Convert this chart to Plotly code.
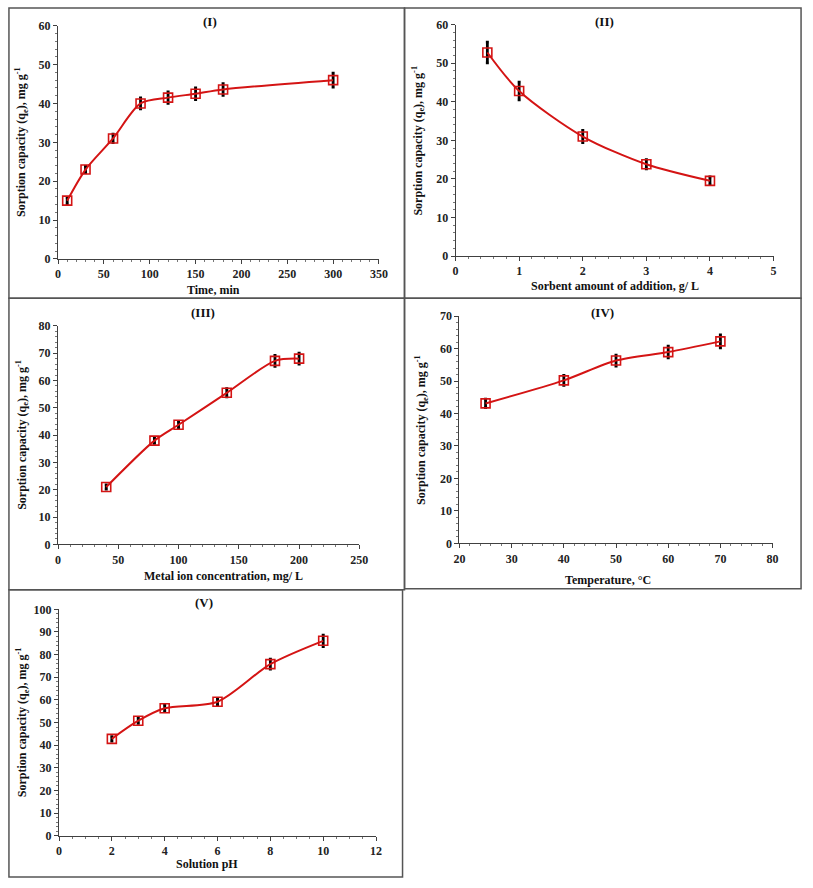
import plotly.graph_objects as go

W, H = 813, 888

# Panel I: contact time
time_min = [10, 30, 60, 90, 120, 150, 180, 300]
q_time = [15.0, 23.0, 31.0, 40.0, 41.5, 42.5, 43.6, 46.0]
err_time = [0.8, 0.8, 1.1, 1.4, 1.5, 1.5, 1.5, 1.8]

# Panel II: sorbent dose
dose = [0.5, 1, 2, 3, 4]
q_dose = [52.8, 42.8, 31.0, 23.8, 19.5]
err_dose = [2.7, 2.3, 1.6, 1.2, 1.0]

# Panel III: metal ion concentration
conc = [40, 80, 100, 140, 180, 200]
q_conc = [21.0, 38.0, 43.8, 55.5, 67.2, 68.0]
err_conc = [0.8, 1.0, 1.2, 1.5, 2.0, 2.0]

# Panel IV: temperature
temp = [25, 40, 50, 60, 70]
q_temp = [43.1, 50.2, 56.3, 58.9, 62.2]
err_temp = [1.3, 1.5, 1.7, 1.8, 2.0]

# Panel V: pH
ph = [2, 3, 4, 6, 8, 10]
q_ph = [42.8, 50.8, 56.3, 59.2, 75.8, 86.1]
err_ph = [1.0, 1.2, 1.5, 1.5, 2.2, 2.5]

panels = [
    dict(x=time_min, y=q_time, e=err_time, xr=[0, 350], xd=50, yr=[0, 60], yd=10,
         box=(53, 19, 380, 256), border=(3, 1, 406, 296), label="(I)", lab=(208, 15),
         xt="Time, min", xtp=(211, 288), ytx=16),
    dict(x=dose, y=q_dose, e=err_dose, xr=[0, 5], xd=1, yr=[0, 60], yd=10,
         box=(458, 18, 782, 253), border=(406, 1, 810, 296), label="(II)", lab=(610, 15),
         xt="Sorbent amount of addition, g/ L", xtp=(620, 283), ytx=420),
    dict(x=conc, y=q_conc, e=err_conc, xr=[0, 250], xd=50, yr=[0, 80], yd=10,
         box=(53, 324, 360, 546), border=(3, 296, 406, 592), label="(III)", lab=(201, 310),
         xt="Metal ion concentration, mg/ L", xtp=(222, 578), ytx=16),
    dict(x=temp, y=q_temp, e=err_temp, xr=[20, 80], xd=10, yr=[0, 70], yd=10,
         box=(462, 314, 781, 545), border=(406, 296, 810, 591), label="(IV)", lab=(608, 310),
         xt="Temperature, °C", xtp=(613, 582), ytx=424),
    dict(x=ph, y=q_ph, e=err_ph, xr=[0, 12], xd=2, yr=[0, 100], yd=10,
         box=(54, 612, 377, 842), border=(3, 592, 404, 884), label="(V)", lab=(202, 605),
         xt="Solution pH", xtp=(205, 871), ytx=17),
]

FONT = "Liberation Serif"
RED = "#D41414"
AX = "#404040"

fig = go.Figure()
shapes = []
annotations = []
ytitle = "Sorption capacity (q<sub>e</sub>), mg g<sup>-1</sup>"

for i, p in enumerate(panels, start=1):
    xa = "x" if i == 1 else f"x{i}"
    ya = "y" if i == 1 else f"y{i}"
    x0, y0, x1, y1 = p["box"]
    fig.add_trace(go.Scatter(
        x=p["x"], y=p["y"], xaxis=xa, yaxis=ya, mode="lines+markers",
        line=dict(color=RED, width=2, shape="spline", smoothing=0.8),
        marker=dict(symbol="square-open", size=9, color=RED, line=dict(width=1.6, color=RED)),
        error_y=dict(type="data", array=p["e"], visible=True, color="black", thickness=2.8, width=1.5),
        showlegend=False, hoverinfo="skip",
    ))
    axcommon = dict(showgrid=False, zeroline=False, showline=True, linecolor=AX, linewidth=1,
                    ticks="outside", ticklen=4, tickcolor=AX, tickwidth=1,
                    tickfont=dict(family=FONT, size=12, color="#222", weight="bold"),
                    minor=dict(ticks="outside", ticklen=2, tickcolor="#777", nticks=5))
    fig.layout[("xaxis" if i == 1 else f"xaxis{i}")] = dict(
        domain=[x0 / W, x1 / W], anchor=ya, range=p["xr"], dtick=p["xd"], tick0=0, **axcommon)
    fig.layout[("yaxis" if i == 1 else f"yaxis{i}")] = dict(
        domain=[1 - y1 / H, 1 - y0 / H], anchor=xa, range=p["yr"], dtick=p["yd"], tick0=0, **axcommon)
    bx0, by0, bx1, by1 = p["border"]
    shapes.append(dict(type="rect", xref="paper", yref="paper",
                       x0=bx0 / W, x1=bx1 / W, y0=1 - by1 / H, y1=1 - by0 / H,
                       line=dict(color="#555", width=1.5)))
    annotations.append(dict(text=f"<b>{p['label']}</b>", xref="paper", yref="paper",
                            x=p["lab"][0] / W, y=1 - p["lab"][1] / H, showarrow=False,
                            font=dict(family=FONT, size=13, color="#111"),
                            xanchor="center", yanchor="middle"))
    annotations.append(dict(text=f"<b>{p['xt']}</b>", xref="paper", yref="paper",
                            x=p["xtp"][0] / W, y=1 - p["xtp"][1] / H, showarrow=False,
                            font=dict(family=FONT, size=12, color="#111"),
                            xanchor="center", yanchor="middle"))
    annotations.append(dict(text=f"<b>{ytitle}</b>", xref="paper", yref="paper",
                            x=p["ytx"] / W, y=1 - ((y0 + y1) / 2) / H, showarrow=False,
                            textangle=-90, font=dict(family=FONT, size=12, color="#111"),
                            xanchor="center", yanchor="middle"))

fig.update_layout(width=W, height=H, margin=dict(l=0, r=0, t=0, b=0),
                  paper_bgcolor="white", plot_bgcolor="white", hovermode=False,
                  shapes=shapes, annotations=annotations)
fig.write_html("out.html", config={"displayModeBar": False},
               post_script="document.body.style.margin='0';document.body.style.padding='0';"
                           "document.documentElement.style.overflow='hidden';")
